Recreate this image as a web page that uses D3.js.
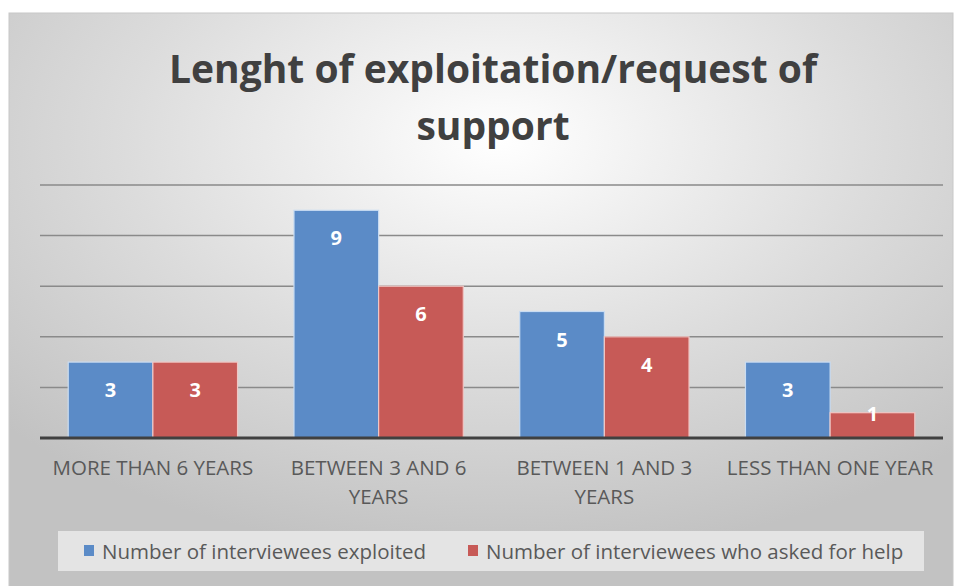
<!DOCTYPE html>
<html>
<head>
<meta charset="utf-8">
<title>Lenght of exploitation</title>
<script src="https://d3js.org/d3.v7.min.js"></script>
<style>
  body { margin: 0; background: #fff; }
  text { font-family: "Open Sans", "Noto Sans", sans-serif; }
</style>
</head>
<body>
<div id="chart"></div>
<script>
const categories = [["MORE THAN 6 YEARS"], ["BETWEEN 3 AND 6", "YEARS"], ["BETWEEN 1 AND 3", "YEARS"], ["LESS THAN ONE YEAR"]];
const exploited = [3, 9, 5, 3];
const askedHelp = [3, 6, 4, 1];
const seriesNames = ["Number of interviewees exploited", "Number of interviewees who asked for help"];
const yTicks = [0, 2, 4, 6, 8, 10];
const colors = ["#5b8bc7", "#c75a57"];

const width = 959, height = 586;
const svg = d3.select('#chart').append('svg')
  .attr('width', width).attr('height', height);

const defs = svg.append('defs');
const grad = defs.append('radialGradient').attr('id', 'bg')
  .attr('cx', '52%').attr('cy', '22%').attr('r', '72%');
grad.append('stop').attr('offset', '0%').attr('stop-color', '#ffffff');
grad.append('stop').attr('offset', '55%').attr('stop-color', '#dcdcdc');
grad.append('stop').attr('offset', '100%').attr('stop-color', '#c2c2c2');

svg.append('rect')
  .attr('x', 9).attr('y', 13).attr('width', 944).attr('height', 580)
  .attr('fill', 'url(#bg)').attr('stroke', '#c8c8c8');

// title
const title = svg.append('text')
  .attr('text-anchor', 'middle')
  .attr('font-size', 39).attr('font-weight', 'bold')
  .attr('fill', '#404040');
title.append('tspan').attr('x', 493).attr('y', 83).text('Lenght of exploitation/request of');
title.append('tspan').attr('x', 493).attr('y', 140).text('support');

const plot = { left: 40, right: 943, top: 185, bottom: 438 };

const x0 = d3.scaleBand().domain(d3.range(categories.length))
  .range([plot.left, plot.right]).paddingInner(0.25).paddingOuter(0.125);
const x1 = d3.scaleBand().domain([0, 1]).range([0, x0.bandwidth()]);
const y = d3.scaleLinear().domain([0, 10]).range([plot.bottom, plot.top]);

// gridlines
svg.append('g').selectAll('line').data(yTicks.filter(d => d > 0)).join('line')
  .attr('x1', plot.left).attr('x2', plot.right)
  .attr('y1', d => y(d)).attr('y2', d => y(d))
  .attr('stroke', '#8a8a8a').attr('stroke-width', 1.5);

const series = [exploited, askedHelp];
const groups = svg.append('g').selectAll('g').data(series).join('g')
  .attr('fill', (d, i) => colors[i]);

groups.each(function(vals, si) {
  const g = d3.select(this);
  g.selectAll('rect').data(vals).join('rect')
    .attr('x', (d, i) => x0(i) + x1(si))
    .attr('y', d => y(d))
    .attr('width', x1.bandwidth())
    .attr('height', d => plot.bottom - y(d))
    .attr('stroke', si === 0 ? '#c9dcf2' : '#f0c6c4').attr('stroke-width', 1.2);
  g.selectAll('text').data(vals).join('text')
    .attr('x', (d, i) => x0(i) + x1(si) + x1.bandwidth() / 2)
    .attr('y', d => Math.min(y(d) + 28, plot.bottom - 24) + 7)
    .attr('text-anchor', 'middle')
    .attr('font-size', 20).attr('font-weight', 'bold')
    .attr('fill', '#fff')
    .text(d => d);
});

// axis baseline
svg.append('line')
  .attr('x1', plot.left).attr('x2', plot.right)
  .attr('y1', plot.bottom).attr('y2', plot.bottom)
  .attr('stroke', '#404040').attr('stroke-width', 3);

// category labels
const catLabels = svg.append('g').selectAll('text').data(categories).join('text')
  .attr('text-anchor', 'middle')
  .attr('font-size', 20.5).attr('fill', '#595959');
catLabels.each(function(lines, i) {
  d3.select(this).selectAll('tspan').data(lines).join('tspan')
    .attr('x', x0(i) + x0.bandwidth() / 2)
    .attr('y', (d, j) => 475 + j * 29)
    .text(d => d);
});

// legend
svg.append('rect')
  .attr('x', 58).attr('y', 531).attr('width', 866).attr('height', 40)
  .attr('fill', '#e4e4e4');
const legendX = [84, 468];
const leg = svg.append('g').selectAll('g').data(seriesNames).join('g')
  .attr('transform', (d, i) => `translate(${legendX[i]},551)`);
leg.append('rect').attr('x', 0).attr('y', -6).attr('width', 10).attr('height', 11)
  .attr('fill', (d, i) => colors[i]);
leg.append('text').attr('x', 18).attr('y', 8)
  .attr('font-size', 20.5).attr('fill', '#595959')
  .text(d => d);
</script>
</body>
</html>
